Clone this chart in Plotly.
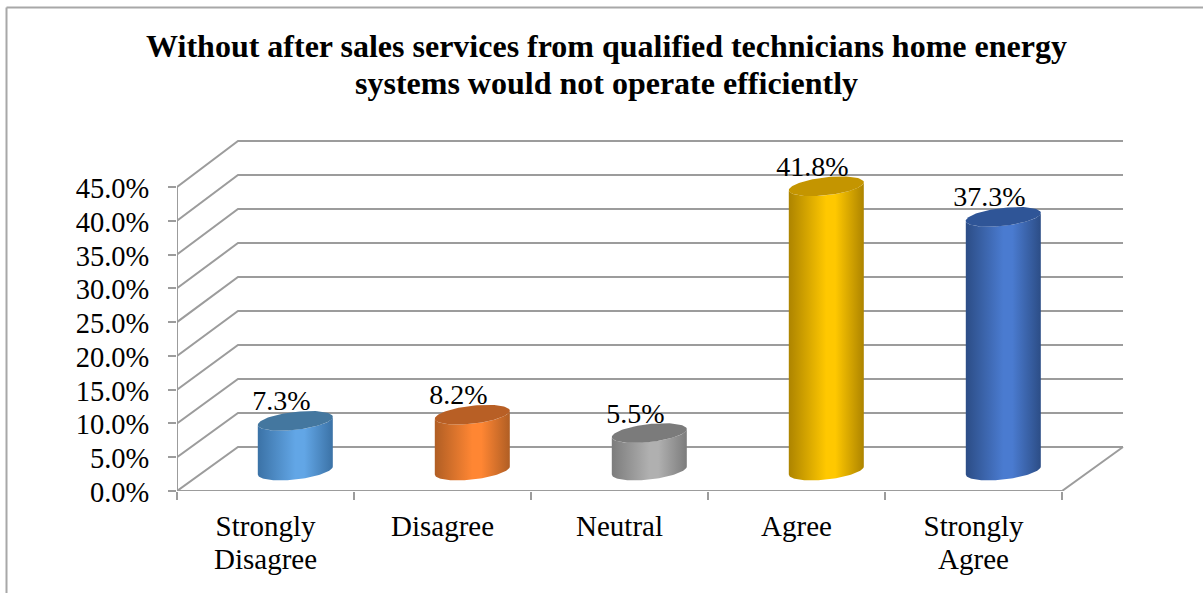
import math
import plotly.graph_objects as go

TITLE_LINES = ["Without after sales services from qualified technicians home energy",
               "systems would not operate efficiently"]
categories = [["Strongly", "Disagree"], ["Disagree"], ["Neutral"], ["Agree"], ["Strongly", "Agree"]]
values = [7.3, 8.2, 5.5, 41.8, 37.3]
y_ticks = [0, 5, 10, 15, 20, 25, 30, 35, 40, 45]

edge_colors = ["#3b72a6", "#b05e24", "#7c7c7c", "#ad8400", "#2c4d86"]
mid_colors = ["#62a6e6", "#ff8633", "#b0b0b0", "#ffc800", "#4a7bd0"]
top_colors = ["#44779f", "#b85f25", "#7b7b7b", "#c49500", "#2f5597"]

W, H = 1203, 593
PX_L, PX_B, CAT = 177.0, 491.0, 177.0
PY = 6.756
GRID = "#9c9c9c"
FONT = "Liberation Serif"


def dx(px):
    return px / CAT


def dy(px):
    return px / PY


def sized(lines, size):
    return "<br>".join(f'<span style="font-size:{size}px">{s}</span>' for s in lines)


DEPTH_X, DEPTH_Y = dx(61), dy(44)
WALL = 306 / 304
BODY = 6.8 / PY
CX, CY = dx(29.8), dy(20.5)
RX = dx(37.5)

fig = go.Figure()

# walls and floor
wx, wy = [], []
for t in y_ticks:
    v = t * WALL
    wx += [-0.5, -0.5 + DEPTH_X, 4.5 + DEPTH_X, None]
    wy += [t, v + DEPTH_Y, v + DEPTH_Y, None]
wx += [-0.5, -0.5, None, -0.5, 4.5, 4.5 + DEPTH_X]
wy += [45, 0, None, 0, 0, DEPTH_Y]
fig.add_trace(go.Scatter(x=wx, y=wy, mode="lines", line=dict(color=GRID, width=2),
                         hoverinfo="skip", showlegend=False))


def ellipse(cx, cy, a0, a1, n=60):
    xs, ys = [], []
    for k in range(n + 1):
        a = a0 + (a1 - a0) * k / n
        xs.append(cx + RX * math.cos(a))
        ys.append(cy + dy(4 * math.cos(a) - 9 * math.sin(a)))
    return xs, ys


for i, v in enumerate(values):
    cx = i + CX
    top = CY + v * BODY
    # side: front half of the top rim, then the front half of the base rim
    x1, y1 = ellipse(cx, top, 0, math.pi)
    x2, y2 = ellipse(cx, CY, math.pi, 0)
    e, m = edge_colors[i], mid_colors[i]
    scale = [[0, e], [0.5, m], [0.62, m], [1, e]]
    fig.add_trace(go.Scatter(x=x1 + x2, y=y1 + y2, mode="lines", fill="toself",
                             line=dict(width=0, color=m),
                             fillgradient=dict(type="horizontal", colorscale=scale),
                             hoverinfo="skip", showlegend=False))
    x3, y3 = ellipse(cx, top, 0, 2 * math.pi, 100)
    fig.add_trace(go.Scatter(x=x3, y=y3, mode="lines", fill="toself",
                             fillcolor=top_colors[i], line=dict(width=0, color=top_colors[i]),
                             hoverinfo="skip", showlegend=False))

fig.add_trace(go.Scatter(
    x=[i + CX - dx(14) for i in range(len(values))],
    y=[CY + v * BODY + dy(17.5) for v in values],
    mode="text",
    text=[f"{v:.1f}%" for v in values],
    textposition="middle center",
    textfont=dict(family=FONT, size=28, color="#000000"),
    hoverinfo="skip", showlegend=False))

fig.update_layout(
    width=W, height=H,
    margin=dict(l=PX_L, r=0, t=0, b=H - PX_B, pad=0),
    paper_bgcolor="#ffffff", plot_bgcolor="#ffffff",
    showlegend=False,
    title=dict(text=sized(TITLE_LINES, 32), x=606.5 / W, xanchor="center", y=1 - 57 / H, yanchor="top",
               font=dict(family=FONT, size=28.5, color="#000000", weight="bold")),
    xaxis=dict(range=[-0.5, (W - PX_L) / CAT - 0.5], tickmode="array",
               tickvals=list(range(len(categories))),
               ticktext=[sized(c, 29) for c in categories],
               showgrid=False, zeroline=False, showline=False, ticks="",
               ticklabelstandoff=19,
               tickfont=dict(family=FONT, size=25.4, color="#000000"),
               minor=dict(tickmode="array", tickvals=[k - 0.5 for k in range(6)],
                          ticks="outside", ticklen=8, tickwidth=2, tickcolor=GRID, showgrid=False)),
    yaxis=dict(range=[0, PX_B / PY], tickmode="array", tickvals=y_ticks,
               ticktext=[f"{t:.1f}%" for t in y_ticks],
               showgrid=False, zeroline=False, showline=False,
               ticks="outside", ticklen=8, tickwidth=2, tickcolor=GRID,
               ticklabelstandoff=13, ticklabelshift=1,
               tickfont=dict(family=FONT, size=28.5, color="#000000")),
    shapes=[
        dict(type="line", xref="paper", yref="paper",
             x0=(6.5 - PX_L) / (W - PX_L), x1=(6.5 - PX_L) / (W - PX_L),
             y0=(PX_B - H) / PX_B, y1=(PX_B - 7.5) / PX_B,
             line=dict(color="#a8a8a8", width=2)),
        dict(type="line", xref="paper", yref="paper",
             x0=(6.5 - PX_L) / (W - PX_L), x1=1,
             y0=(PX_B - 7.5) / PX_B, y1=(PX_B - 7.5) / PX_B,
             line=dict(color="#a8a8a8", width=2)),
    ],
)

fig.write_html("out.html", config=dict(displayModeBar=False),
               post_script="document.body.style.margin='0';")
